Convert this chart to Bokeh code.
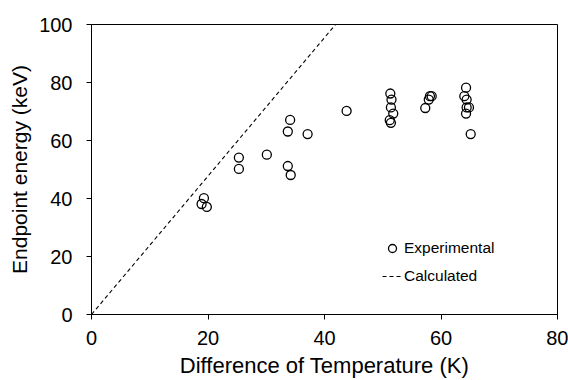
from bokeh.plotting import figure
from bokeh.models import Range1d, Legend, LegendItem, FixedTicker
from bokeh.embed import file_html
from bokeh.resources import INLINE

# Experimental data (Difference of Temperature K, Endpoint energy keV)
exp_x = [19.3, 18.9, 19.8, 25.3, 25.3, 30.1, 33.7, 34.2, 33.7, 34.1, 37.1, 43.8,
         51.3, 51.5, 51.4, 51.8, 51.2, 51.4, 58.1, 58.4, 57.9, 57.3,
         64.3, 64.0, 64.4, 64.8, 64.4, 64.3, 65.1]
exp_y = [40.1, 38.1, 37.1, 54.1, 50.2, 55.1, 51.2, 48.1, 63.1, 67.1, 62.2, 70.2,
         76.2, 74.1, 71.4, 69.3, 67.0, 66.1, 75.3, 75.3, 74.1, 71.2,
         78.2, 75.3, 74.1, 71.4, 71.4, 69.3, 62.2]

# Calculated line
calc_x = [0, 41.9]
calc_y = [0, 100]

x_ticks = [0, 20, 40, 60, 80]
y_ticks = [0, 20, 40, 60, 80, 100]

FONT = "Liberation Sans"

p = figure(width=568, height=380, output_backend="svg", toolbar_location=None,
           x_range=Range1d(0, 80), y_range=Range1d(0, 100),
           min_border_left=91, min_border_right=11, min_border_top=24, min_border_bottom=65)

p.xgrid.visible = False
p.ygrid.visible = False
p.outline_line_color = "black"
p.outline_line_width = 1
p.outline_line_alpha = 1
p.background_fill_color = "white"
p.border_fill_color = "white"

r_calc = p.line(calc_x, calc_y, line_color="black", line_width=1.1, line_dash="4 3")
r_exp = p.scatter(exp_x, exp_y, marker="circle", size=9, fill_alpha=0,
                  line_color="black", line_width=1.3)

for ax, ticks in ((p.xaxis, x_ticks), (p.yaxis, y_ticks)):
    ax.ticker = FixedTicker(ticks=ticks)
    ax.minor_tick_line_color = None
    ax.major_tick_out = 5
    ax.major_tick_in = 0
    ax.major_tick_line_color = "black"
    ax.axis_line_color = "black"
    ax.major_label_text_font = FONT
    ax.major_label_text_font_size = "20px"
    ax.major_label_text_color = "black"
    ax.axis_label_text_font = FONT
    ax.axis_label_text_font_style = "normal"
    ax.axis_label_text_color = "black"

p.xaxis.axis_label = "Difference of Temperature (K)"
p.yaxis.axis_label = "Endpoint energy (keV)"
p.xaxis.axis_label_text_font_size = "22px"
p.yaxis.axis_label_text_font_size = "21px"
p.xaxis.major_label_standoff = 11
p.yaxis.major_label_standoff = 14
p.xaxis.axis_label_standoff = 5
p.yaxis.axis_label_standoff = 5

legend = Legend(items=[LegendItem(label="Experimental", renderers=[r_exp]),
                       LegendItem(label="Calculated", renderers=[r_calc])],
                location=(291, 28), padding=0, margin=0, spacing=8,
                glyph_width=20, glyph_height=20, label_height=20, label_standoff=2,
                border_line_color=None, background_fill_alpha=0,
                label_text_font=FONT, label_text_font_size="15.5px", label_text_color="black")
p.add_layout(legend, "center")

open("out.html", "w").write(file_html(p, INLINE))
